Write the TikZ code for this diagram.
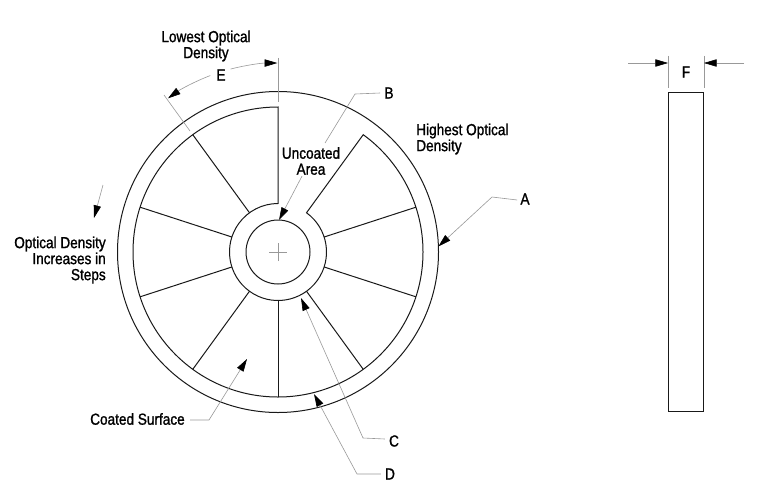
\documentclass[tikz,border=0pt]{standalone}
\usepackage{fontspec}
\setmainfont[FakeStretch=0.85,FakeBold=1.2]{Liberation Sans}
\usetikzlibrary{arrows.meta,calc}
\tikzset{
  lbl/.style={inner sep=0pt,font=\fontsize{12}{12}\selectfont,text=black},
  edge/.style={draw=black!90,line width=0.75pt},
  leader/.style={draw=black!40,line width=0.45pt},
  tipped/.style={leader,-{Triangle[length=9.5pt,width=5.5pt,color=black,fill=black]}},
  ringnode/.style={circle,draw=black!90,line width=0.75pt,inner sep=0pt,outer sep=0pt}
}
\begin{document}
\begin{tikzpicture}[x=0.75pt,y=0.75pt]
\useasboundingbox (0,0) rectangle (780,501);
\fill[white] (0,0) rectangle (780,501);
\coordinate (c) at (278,249);
% rings
\node[ringnode,minimum size=240.75pt] (outer) at (c) {};
\node[ringnode,minimum size=48pt] (bore) at (c) {};
% coated area outline
\draw[edge,line join=miter] ($(c)+(90:145)$) arc (90:414:145)
  -- ($(c)+(54:48.5)$) arc (54:-270:48.5) -- cycle;
% spokes
\foreach \a in {126,162,198,234,270,306,342,18}
  \draw[edge] ($(c)+(\a:48.5)$) -- ($(c)+(\a:145)$);
% centre cross
\draw[leader] ($(c)+(-9,0)$) -- ($(c)+(9,0)$) ($(c)+(0,-9)$) -- ($(c)+(0,9)$);
% labels
\node[lbl,align=center] (lowest) at (206,455) {Lowest Optical\\Density};
\node[lbl] (E) at (221,426) {E};
\node[lbl,align=center] (uncoated) at (311,340) {Uncoated\\Area};
\node[lbl,align=left,anchor=west] (highest) at (416,362) {Highest Optical\\Density};
\node[lbl,align=right,anchor=east] (steps) at (106,241) {Optical Density\\Increases in\\Steps};
\node[lbl,anchor=east] (coated) at (185,82) {Coated Surface};
\node[lbl] (A) at (525,302) {A};
\node[lbl] (B) at (389,408) {B};
\node[lbl] (C) at (394,60) {C};
\node[lbl] (D) at (390,27) {D};
\node[lbl] (F) at (686,429) {F};
% dimension E
\draw[leader] (278,443) -- (278,399);
\draw[leader] (164,406) -- (190,370);
\draw[tipped] ($(c)+(104.5:189)$) arc (104.5:90.2:189);
\draw[tipped] ($(c)+(111:189)$) arc (111:125.6:189);
% leaders
\coordinate (Abend) at (492,304);
\coordinate (Bbend) at (355,407);
\coordinate (Bend) at (325,358);
\coordinate (Cbend) at (363,63);
\coordinate (Dbend) at (357,27);
\coordinate (Sbend) at (209,81);
\coordinate (Utip) at (279,281);
\coordinate (Ctip) at (301,203);
\coordinate (Dtip) at (314,107);
\coordinate (Stip) at (247,142);
\draw[tipped] (A.west)+(-3,-1) -- (Abend) -- (outer.2);
\draw[leader] (B.west)+(-4,0) -- (Bbend) -- (Bend);
\draw[tipped] (uncoated.south)+(-9,-1) -- (Utip);
\draw[tipped] (C.west)+(-4,2) -- (Cbend) -- (Ctip);
\draw[tipped] (D.west)+(-4,0) -- (Dbend) -- (Dtip);
\draw[tipped] (coated.east)+(5,-1) -- (Sbend) -- (Stip);
\coordinate (Ostart) at (103,316);
\coordinate (Otip) at (94,283);
\draw[tipped] (Ostart) -- (Otip);
% side view
\node[draw=black!90,line width=0.75pt,inner sep=0pt,outer sep=0pt,minimum width=26.25pt,minimum height=239.25pt] (side) at (685.5,249.5) {};
\draw[leader] (668,445) -- (668,413);
\draw[leader] (704,445) -- (704,413);
\coordinate (Fl) at (628,438);
\coordinate (Fr) at (744,438);
\draw[tipped] (Fl) -- (668,438);
\draw[tipped] (Fr) -- (704,438);
\end{tikzpicture}
\end{document}
